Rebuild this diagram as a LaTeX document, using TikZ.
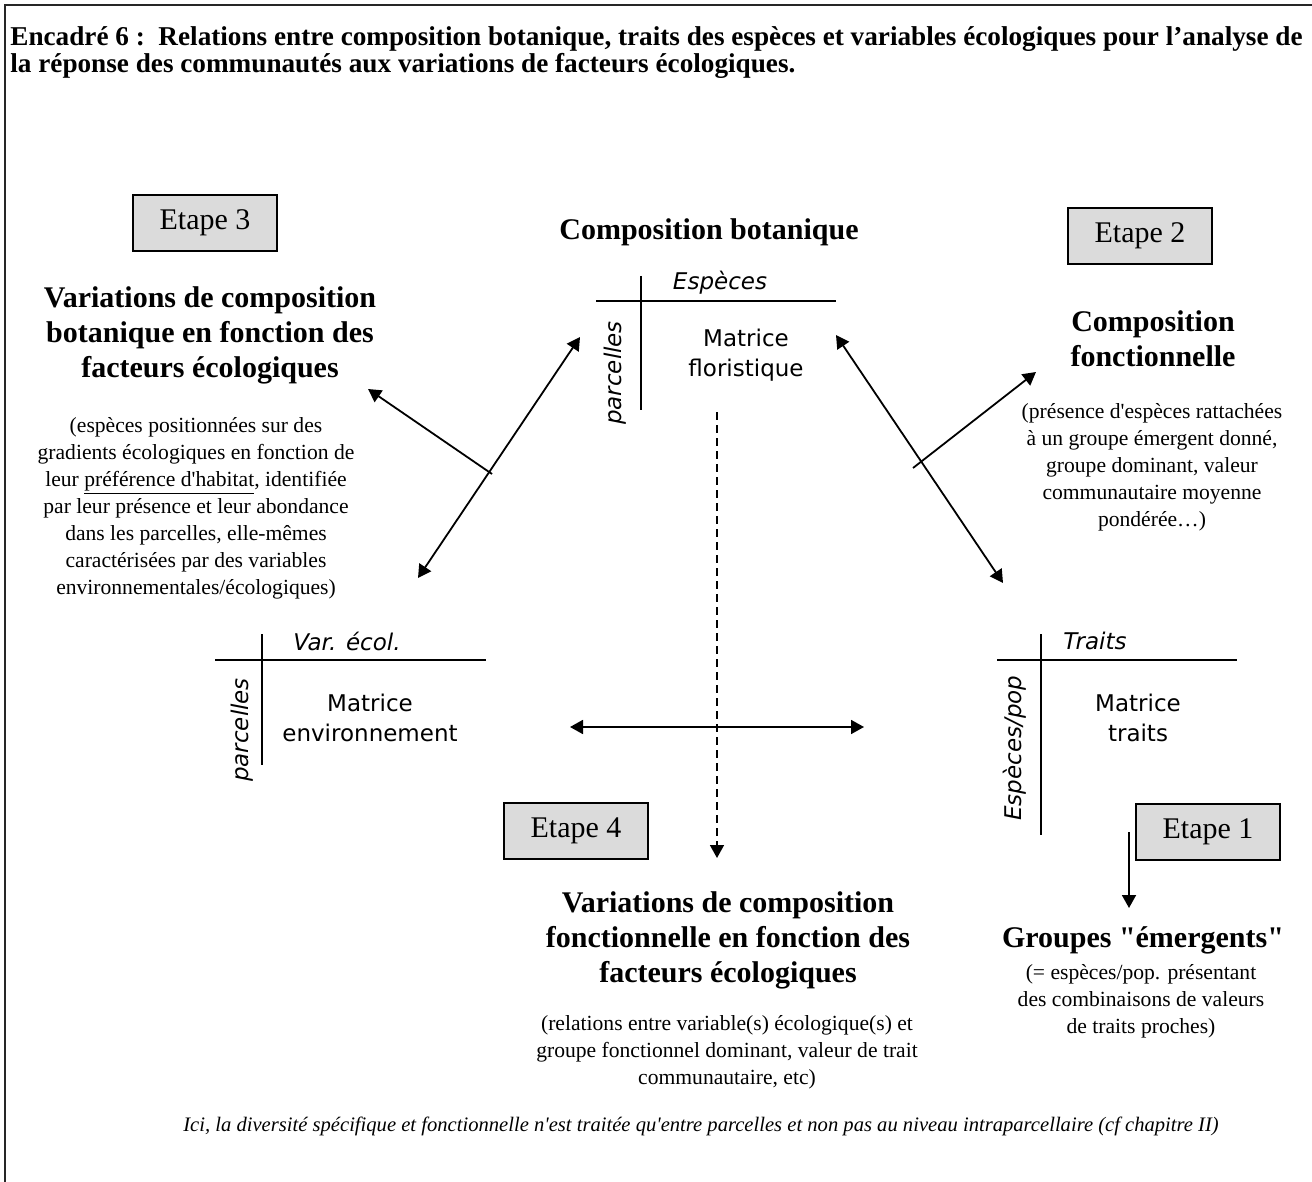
\documentclass[tikz,border=0pt]{standalone}
\usepackage{fontspec}
\setmainfont{Liberation Serif}[Ligatures=TeXOff]
\newfontfamily\matfont{DejaVu Sans}
\usetikzlibrary{arrows.meta}

\tikzset{
  heading/.style={font=\fontsize{15}{17.5}\selectfont\bfseries, align=center, inner sep=0pt},
  note/.style={font=\fontsize{10.8}{13.5}\selectfont, align=center, inner sep=0pt},
  stagebox/.style={draw, line width=0.7pt, fill=gray!28, minimum width=72pt, minimum height=28pt,
                   font=\fontsize{15}{17}\selectfont, inner sep=0pt},
  mattext/.style={font=\matfont\fontsize{11.5}{15}\selectfont, align=center, inner sep=0pt},
  axistext/.style={font=\matfont\itshape\fontsize{11.5}{14}\selectfont, inner sep=0pt},
  rule/.style={line width=0.9pt},
  link/.style={line width=0.9pt, -{Triangle[length=6.5pt,width=7pt]}},
  duallink/.style={line width=0.9pt, {Triangle[length=6.5pt,width=7pt]}-{Triangle[length=6.5pt,width=7pt]}},
  titletext/.style={anchor=base west, inner sep=0pt, font=\fontsize{13.6}{13.5}\selectfont\bfseries},
}

\begin{document}
\begin{tikzpicture}[x=0.5pt,y=-0.5pt]
\useasboundingbox (0,0) rectangle (1312,1182);

% frame (top and left edges)
\draw[line width=1.2pt, black!85] (5,1182) -- (5,5) -- (1312,5);

% title
\node[titletext] (title1) at (10,46)
  {Encadré 6 :\ \ Relations entre composition botanique, traits des espèces et variables écologiques pour l’analyse de};
\node[titletext] (title2) at (10,73)
  {la réponse des communautés aux variations de facteurs écologiques.};

% stage boxes
\node[stagebox] (e3) at (205,223) {Etape 3};
\node[stagebox] (e2) at (1140,236) {Etape 2};
\node[stagebox] (e4) at (576,831) {Etape 4};
\node[stagebox] (e1) at (1208,832) {Etape 1};

% floristic matrix
\node[heading] (compbot) at (709,232) {Composition botanique};
\coordinate (fv1) at (641,276); \coordinate (fv2) at (641,410);
\coordinate (fh1) at (596,301); \coordinate (fh2) at (836,301);
\draw[rule] (fv1) -- (fv2);
\draw[rule] (fh1) -- (fh2);
\node[axistext] (fesp) at (720,283) {Espèces};
\node[axistext, rotate=90] (fparc) at (615,373) {parcelles};
\node[mattext] (mflor) at (746,355) {Matrice\\floristique};

% environment matrix
\coordinate (ev1) at (262,634); \coordinate (ev2) at (262,765);
\coordinate (eh1) at (215,660); \coordinate (eh2) at (486,660);
\draw[rule] (ev1) -- (ev2);
\draw[rule] (eh1) -- (eh2);
\node[axistext] (evar) at (347,641) {Var. écol.};
\node[axistext, rotate=90] (eparc) at (242,730) {parcelles};
\node[mattext] (menv) at (370,718) {Matrice\\environnement};

% trait matrix
\coordinate (tv1) at (1041,634); \coordinate (tv2) at (1041,835);
\coordinate (th1) at (997,660); \coordinate (th2) at (1237,660);
\draw[rule] (tv1) -- (tv2);
\draw[rule] (th1) -- (th2);
\node[axistext] (ttr) at (1095,641) {Traits};
\node[axistext, rotate=90] (tesp) at (1015,748) {Espèces/pop};
\node[mattext] (mtr) at (1138,718) {Matrice\\traits};

% step 3 block
\node[heading] (var3) at (210,335)
  {Variations de composition\\botanique en fonction des\\facteurs écologiques};
\node[note] (var3n) at (196,508)
  {(espèces positionnées sur des\\gradients écologiques en fonction de\\leur \underline{préférence d'habitat}, identifiée\\par leur présence et leur abondance\\dans les parcelles, elle-mêmes\\caractérisées par des variables\\environnementales/écologiques)};

% step 2 block
\node[heading] (cf) at (1153,339) {Composition\\fonctionnelle};
\node[note] (cfn) at (1152,467)
  {(présence d'espèces rattachées\\à un groupe émergent donné,\\groupe dominant, valeur\\communautaire moyenne\\pondérée…)};

% step 4 block
\node[heading] (var4) at (728,940)
  {Variations de composition\\fonctionnelle en fonction des\\facteurs écologiques};
\node[note] (var4n) at (727,1052)
  {(relations entre variable(s) écologique(s) et\\groupe fonctionnel dominant, valeur de trait\\communautaire, etc)};

% step 1 block
\node[heading] (grp) at (1143,940) {Groupes "émergents"};
\node[note] (grpn) at (1141,1001)
  {(= espèces/pop. présentant\\des combinaisons de valeurs\\de traits proches)};

% footnote
\node[inner sep=0pt, font=\fontsize{10.3}{13}\selectfont\itshape] (foot) at (701,1126)
  {Ici, la diversité spécifique et fonctionnelle n'est traitée qu'entre parcelles et non pas au niveau intraparcellaire (cf chapitre II)};

% connectors
\coordinate (lA) at (418,578); \coordinate (lB) at (580,337);
\coordinate (lS) at (492,474); \coordinate (lT) at (368,389);
\draw[duallink] (lA) -- (lB);
\draw[link] (lS) -- (lT);

\coordinate (rA) at (836,335); \coordinate (rB) at (1003,583);
\coordinate (rS) at (913,468); \coordinate (rT) at (1036,372);
\draw[duallink] (rA) -- (rB);
\draw[link] (rS) -- (rT);

\coordinate (hA) at (570,727); \coordinate (hB) at (864,727);
\draw[duallink] (hA) -- (hB);

\coordinate (dA) at (717,412); \coordinate (dB) at (717,858);
\draw[link, dashed, dash pattern=on 4pt off 2.5pt, line width=0.8pt] (dA) -- (dB);

\coordinate (gA) at (1129,832); \coordinate (gB) at (1129,908);
\draw[link] (gA) -- (gB);
\end{tikzpicture}
\end{document}
